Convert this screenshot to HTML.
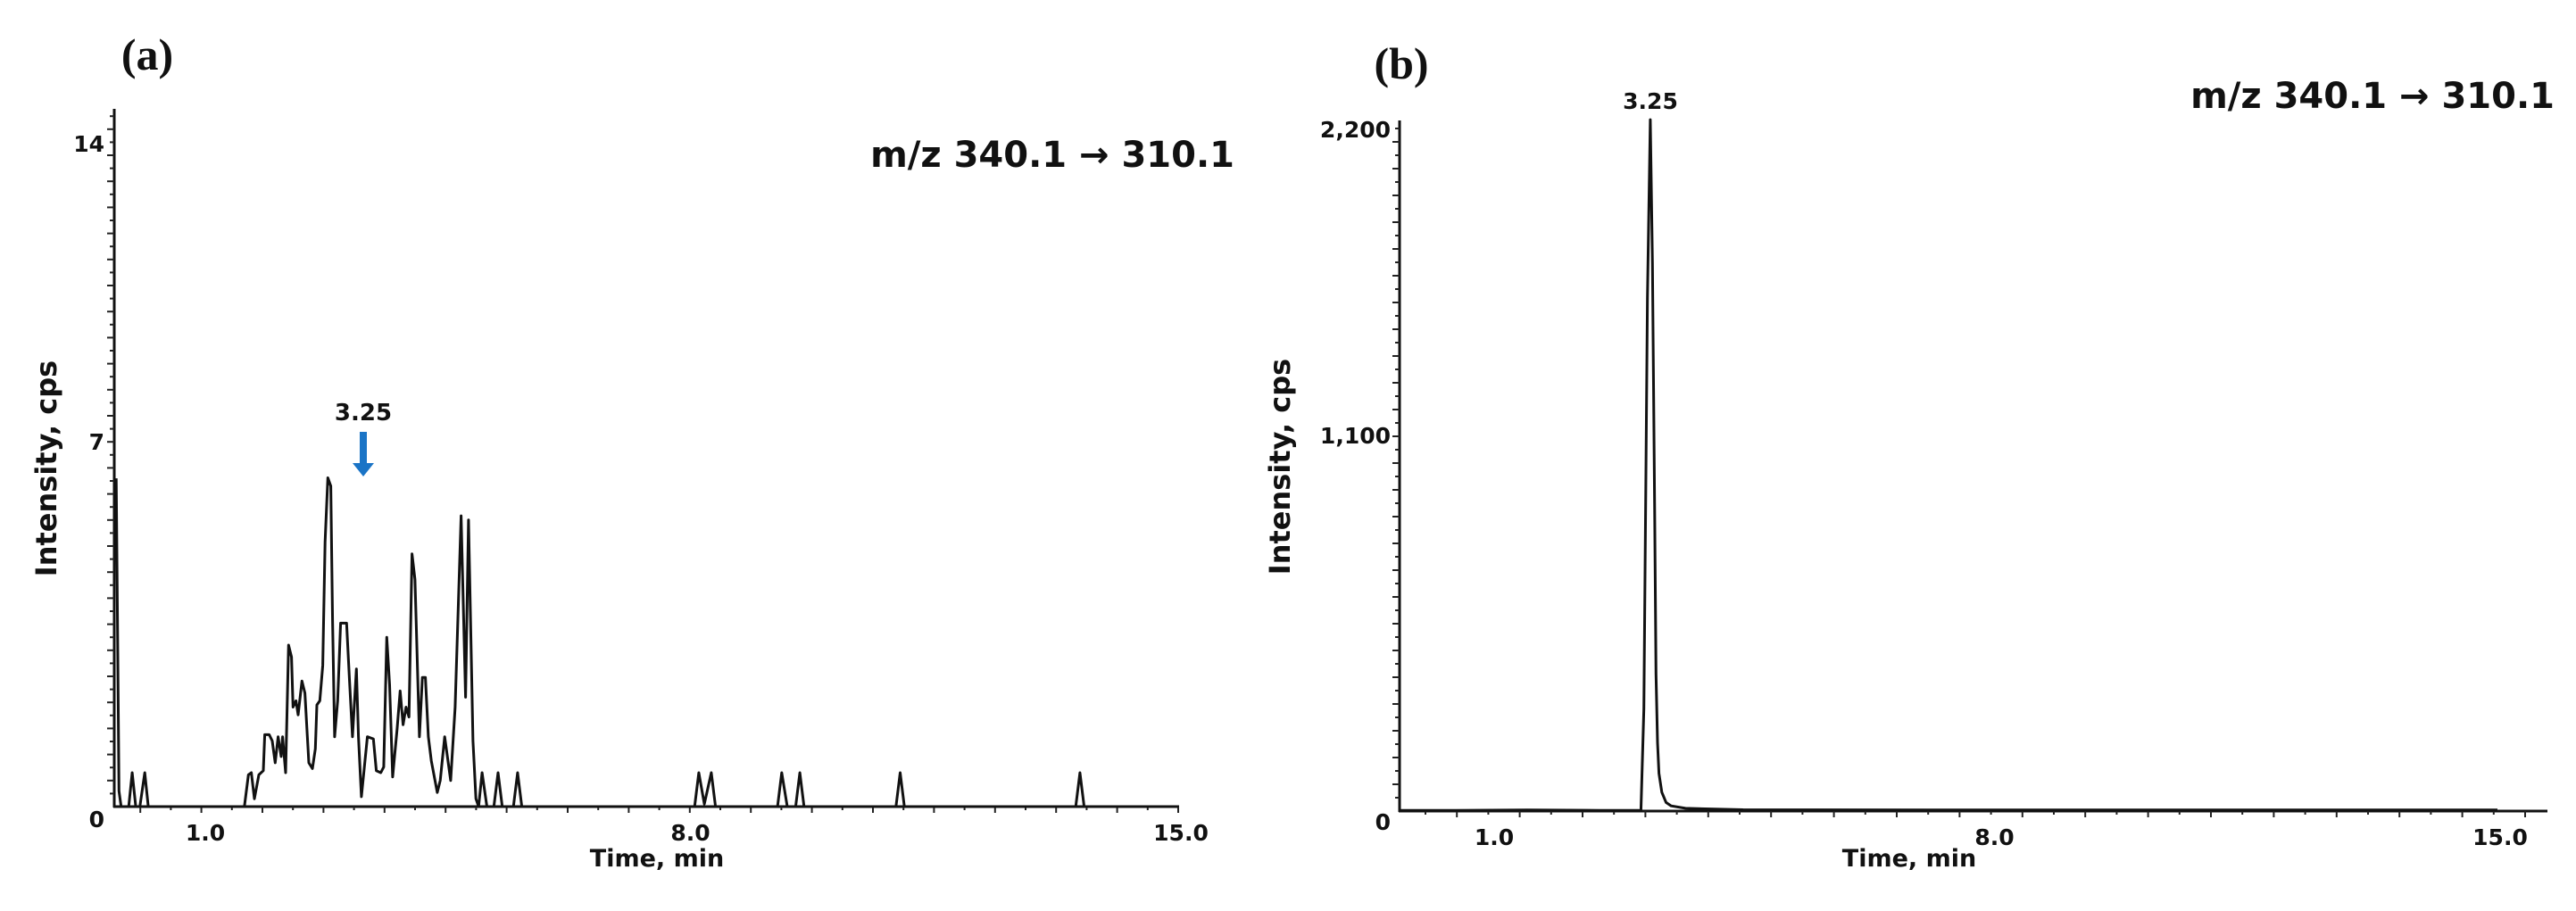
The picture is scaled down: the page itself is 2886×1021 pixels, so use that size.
<!DOCTYPE html>
<html><head><meta charset="utf-8"><style>
html,body{margin:0;padding:0;background:#fff;}
svg{display:block;}
text{font-family:"DejaVu Sans","Liberation Sans",sans-serif;font-weight:bold;fill:#111;}
.serif{font-family:"Liberation Serif","DejaVu Serif",serif;}
</style></head><body>
<svg id="fig" width="2886" height="1021" viewBox="0 0 2886 1021" xmlns="http://www.w3.org/2000/svg">
<g id="pa"></g>
<g id="pb"></g>
</svg>
<script>
// ---- Panel (a) data ----
const aTimes = [-0.24,-0.2,-0.17,-0.06,-0.01,0.04,0.1,0.17,0.22,1.6,1.657,1.70,1.743,1.807,1.871,1.892,1.956,1.999,2.041,2.084,2.127,2.148,2.191,2.233,2.276,2.297,2.340,2.370,2.426,2.468,2.524,2.575,2.618,2.639,2.682,2.724,2.758,2.797,2.839,2.865,2.895,2.938,2.980,3.066,3.108,3.151,3.207,3.236,3.279,3.364,3.450,3.492,3.556,3.599,3.642,3.684,3.727,3.791,3.834,3.877,3.919,3.962,4.005,4.047,4.111,4.154,4.197,4.239,4.282,4.367,4.410,4.474,4.560,4.624,4.709,4.773,4.816,4.880,4.922,4.96,5.01,5.08,5.18,5.24,5.30,5.46,5.52,5.58,8.06,8.12,8.2,8.3,8.36,9.25,9.31,9.39,9.51,9.57,9.63,10.95,11.01,11.07,13.53,13.59,13.65,15.0];
const aValues = [6.3,0.3,0,0,0.65,0,0,0.65,0,0,0.61,0.65,0.15,0.61,0.69,1.38,1.38,1.26,0.84,1.34,0.96,1.34,0.65,3.10,2.87,1.91,2.03,1.76,2.41,2.18,0.84,0.73,1.11,1.95,2.03,2.71,5.08,6.31,6.15,3.55,1.34,2.03,3.52,3.52,2.41,1.34,2.64,1.34,0.19,1.34,1.30,0.69,0.65,0.76,3.25,2.33,0.57,1.49,2.22,1.57,1.91,1.72,4.85,4.36,1.34,2.48,2.48,1.34,0.88,0.27,0.50,1.34,0.50,1.91,5.58,2.10,5.50,1.26,0.15,0,0.65,0,0,0.65,0,0,0.65,0,0,0.65,0.05,0.65,0,0,0.65,0,0,0.65,0,0,0.65,0,0,0.65,0,0];
const aYTickLabels = ["0","7","14"];
const aXTickLabels = ["1.0","8.0","15.0"];
// ---- Panel (b) data ----
const bTimes = [-0.28,0.5,1.5,2.5,3.05,3.08,3.12,3.17,3.21,3.24,3.27,3.29,3.31,3.33,3.37,3.43,3.5,3.7,4.5,8,15];
const bValues = [2,2,3,2,2,0,300,1500,2020,1600,900,400,200,110,55,25,15,8,4,3,3];
const bYTickLabels = ["0","1,100","2,200"];
const bXTickLabels = ["1.0","8.0","15.0"];

const NS="http://www.w3.org/2000/svg";
function mk(parent,tag,attrs,txt){const e=document.createElementNS(NS,tag);for(const k in attrs)e.setAttribute(k,attrs[k]);if(txt!==undefined)e.textContent=txt;parent.appendChild(e);return e;}

function panel(g,cfg){
  const xs=t=>cfg.x1+(t-1)*(cfg.x15-cfg.x1)/14;
  const ys=v=>cfg.y0-v*cfg.yk;
  // axes
  let ax=mk(g,'line',{x1:cfg.ax,y1:cfg.top,x2:cfg.ax,y2:cfg.y0+1,stroke:'#111','stroke-width':3});
  
  
  let bx=mk(g,'line',{x1:cfg.ax-1,y1:cfg.y0,x2:cfg.axEnd,y2:cfg.y0,stroke:'#111','stroke-width':3});
  
  
  // y minor ticks
  for(let y=cfg.y0-cfg.ytickStep,i=1;y>cfg.top+4;y-=cfg.ytickStep,i++){
    const l=mk(g,'line',{x1:cfg.ax-(i%2?5:8),y1:y,x2:cfg.ax,y2:y,stroke:'#222','stroke-width':2});
    
    
  }
  // x ticks
  for(let x=cfg.axEnd2,i=0;x>cfg.ax+4;x-=cfg.xtickStep,i++){
    const l=mk(g,'line',{x1:x,y1:cfg.y0,x2:x,y2:cfg.y0+(i%2?4:7),stroke:'#222','stroke-width':2});
    
    
  }
  // y labels
  cfg.yLabels.forEach((s,i)=>{
    const t=mk(g,'text',{x:cfg.ylabX,y:cfg.ylabY[i],'text-anchor':'end','font-size':25},s);
    
    
  });
  cfg.xLabels.forEach((s,i)=>{
    const t=mk(g,'text',{x:xs(parseFloat(s))+(i==0?3:(i==2?3:0)),y:cfg.y0+38,'text-anchor':'middle','font-size':25},s);
    
    
  });
  // trace
  let d='';
  cfg.times.forEach((t,i)=>{d+=(i?'L':'M')+xs(t).toFixed(1)+','+ys(cfg.values[i]).toFixed(1);});
  const p=mk(g,'path',{d:d,fill:'none',stroke:'#111','stroke-width':cfg.sw,'stroke-linejoin':'round'});
  
  
  return {xs,ys};
}

const ga=document.getElementById('pa');
const A=panel(ga,{ax:128,top:122,y0:904,axEnd:1321,axEnd2:1320,x1:227,x15:1320,yk:58.4,ytickStep:14.6,xtickStep:34.2,
  ylabX:117,ylabY:[927,504,170],yLabels:aYTickLabels,xLabels:aXTickLabels,times:aTimes,values:aValues,sw:3});
const gb=document.getElementById('pb');
const B=panel(gb,{ax:1568,top:135,y0:909,axEnd:2854,axEnd2:2829,x1:1671,x15:2798,yk:0.3836,ytickStep:15,xtickStep:35.2,
  ylabX:1558,ylabY:[930,497,154],yLabels:bYTickLabels,xLabels:bXTickLabels,times:bTimes,values:bValues,sw:3});
</script>
<!-- static labels -->
<script>
const svg=document.getElementById('fig');
function T(a,txt,name){const e=mk(svg,'text',a,txt);return e;}
T({x:165,y:78,'text-anchor':'middle','font-size':50,class:'serif'},'(a)','panel-a-label');
T({x:1570,y:88,'text-anchor':'middle','font-size':50,class:'serif'},'(b)','panel-b-label');
T({x:1383,y:187,'text-anchor':'end','font-size':40},'m/z 340.1 → 310.1','panel-a-title');
T({x:2862,y:121,'text-anchor':'end','font-size':40},'m/z 340.1 → 310.1','panel-b-title');
T({x:0,y:0,'text-anchor':'middle','font-size':32,transform:'translate(63,525) rotate(-90)'},'Intensity, cps','panel-a-y-axis-title');
T({x:0,y:0,'text-anchor':'middle','font-size':32,transform:'translate(1445,523) rotate(-90)'},'Intensity, cps','panel-b-y-axis-title');
T({x:736,y:971,'text-anchor':'middle','font-size':27},'Time, min','panel-a-x-axis-title');
T({x:2139,y:971,'text-anchor':'middle','font-size':27},'Time, min','panel-b-x-axis-title');
T({x:1849,y:122,'text-anchor':'middle','font-size':25},'3.25','panel-b-peak-label');
T({x:407,y:471,'text-anchor':'middle','font-size':26},'3.25','panel-a-peak-label');
const ar=mk(svg,'g',{});


mk(ar,'rect',{x:403,y:484,width:8,height:38,fill:'#1a74c6'});
mk(ar,'polygon',{points:'395,519 419,519 407,534',fill:'#1a74c6'});
</script>
</body></html>
